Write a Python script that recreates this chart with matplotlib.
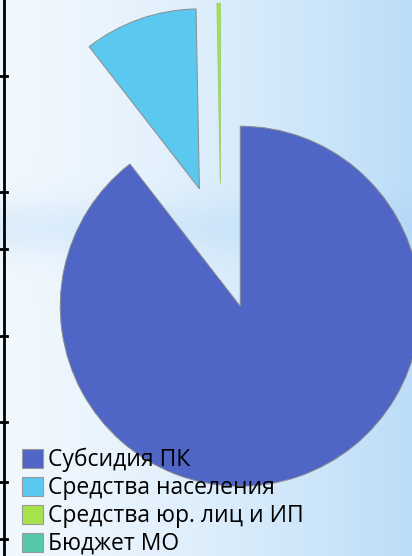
import numpy as np
import matplotlib
matplotlib.use("Agg")
import matplotlib.pyplot as plt

# Funding sources (share of total, %)
labels = ["Субсидия ПК", "Средства населения", "Средства юр. лиц и ИП", "Бюджет МО"]
shares = [89.5, 10.2, 0.3, 0.0]
colors = ["#4f66c6", "#5bc8f0", "#a6e34a", "#54c8a8"]

W, H = 412, 556
R = 180.0           # pie radius in px
cx, cy = 221, 250   # pie centre in px (from top-left)

fig = plt.figure(figsize=(W / 100, H / 100), dpi=100)

# background gradient
bg = fig.add_axes([0, 0, 1, 1])
xs = np.linspace(0, 1, W)
ys = np.linspace(0, 1, H)
X, Y = np.meshgrid(xs, ys)
left = np.array([241, 248, 254]) / 255
right = np.array([188, 221, 248]) / 255
t = (X ** 1.4)[..., None]
img = left * (1 - t) + right * t
band = np.exp(-((Y - 0.41) / 0.05) ** 2) * (1 - 0.6 * X) * 0.09
img = img - band[..., None] * np.array([0.9, 0.5, 0.15])
bg.imshow(np.clip(img, 0, 1), extent=[0, W, H, 0], aspect="auto")
bg.set_xlim(0, W)
bg.set_ylim(H, 0)
bg.axis("off")

# table border remnants on the left
bg.plot([4, 4], [0, H], color="black", lw=2)
for ty in [76, 192, 249, 336, 422, 482, 539]:
    bg.plot([0, 7], [ty, ty], color="black", lw=2)

# pie in units of the radius
ax = fig.add_axes([0, 0, 1, 1])
ax.patch.set_alpha(0)
wedges, _ = ax.pie(shares, colors=colors, startangle=90, counterclock=False,
                   explode=[0.33, 0.36, 0.37, 0.0], normalize=True,
                   wedgeprops=dict(edgecolor="#8c8c8c", linewidth=0.7),
                   frame=True)
for w, s in zip(wedges, shares):
    if s == 0:
        w.set_visible(False)
wedges[2].set_edgecolor("#9ccf6a")
ax.set_xlim(-cx / R, (W - cx) / R)
ax.set_ylim(-(H - cy) / R, cy / R)
ax.set_aspect("auto")
ax.axis("off")

leg = ax.legend(wedges, labels, loc="upper left", bbox_to_anchor=(22 / W, 1 - 448 / H),
                frameon=False, prop=dict(family="Open Sans", size=16.5),
                handlelength=0.9, handleheight=0.9, handletextpad=0.22,
                labelspacing=0.17, borderaxespad=0, borderpad=0)
for h in leg.legend_handles:
    h.set_visible(True)
    h.set_edgecolor("#9a9a9a")
    h.set_linewidth(0.8)

fig.savefig("out.png", dpi=100)
